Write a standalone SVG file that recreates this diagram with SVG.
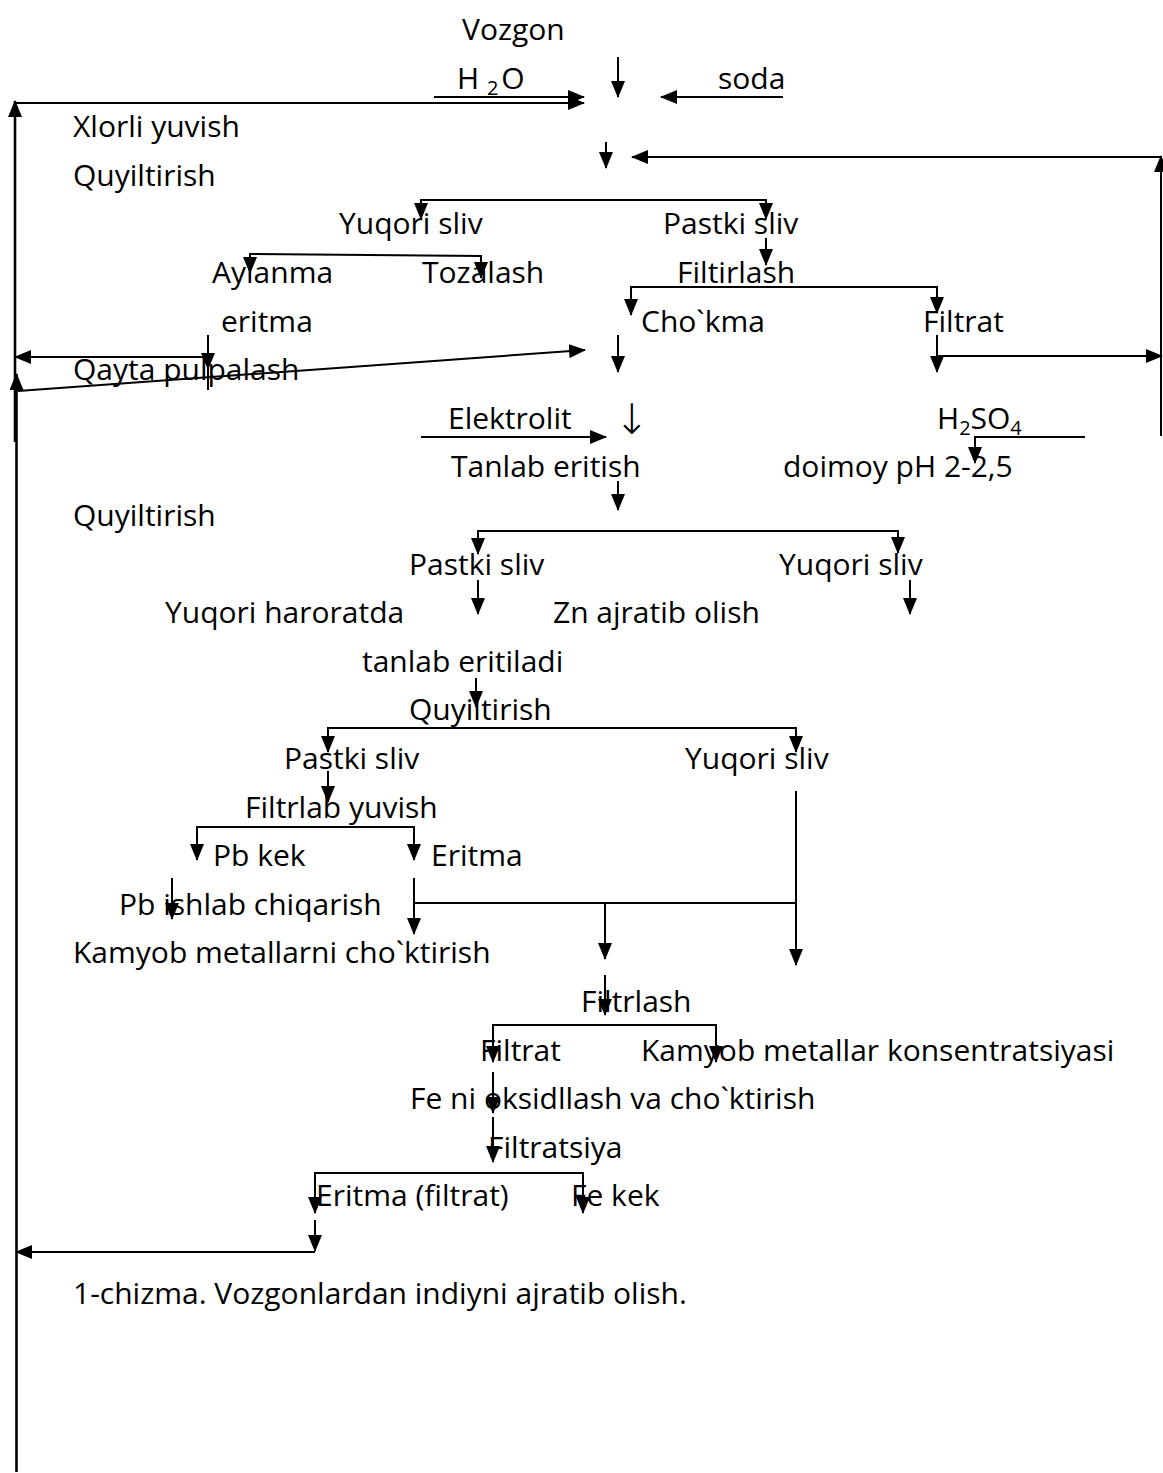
<svg xmlns="http://www.w3.org/2000/svg" width="1163" height="1473" viewBox="0 0 1163 1473">
<defs>
<marker id="ah" markerUnits="userSpaceOnUse" markerWidth="17" markerHeight="14" refX="16" refY="7" orient="auto-start-reverse">
<path d="M0,0 L17,7 L0,14 z" fill="#000"/>
</marker>
<style>
text{font-family:"Open Sans","Noto Sans",sans-serif;font-size:30px;fill:#000}
.c line,.c path{stroke:#000;stroke-width:2;fill:none}
.c .a{marker-end:url(#ah)}
.c .b{marker-start:url(#ah);marker-end:url(#ah)}
.c .w{stroke-width:2.6}
.sub{font-size:20px}
.arr{font-family:"DejaVu Sans",sans-serif;font-size:42px;font-weight:200}
</style>
</defs>
<rect width="1163" height="1473" fill="#fff"/>
<g id="connectors" class="c">
<line class="a w" x1="15" y1="442" x2="15" y2="101"/>
<line class="a" x1="15" y1="103" x2="584" y2="103"/>
<line class="a" x1="434" y1="97" x2="584" y2="97"/>
<line class="a" x1="618" y1="57" x2="618" y2="97"/>
<line class="a" x1="783" y1="97" x2="661" y2="97"/>
<line class="a" x1="606" y1="142" x2="606" y2="168"/>
<line class="a" x1="1161" y1="157" x2="632" y2="157"/>
<line class="a" x1="1161" y1="436" x2="1161" y2="156"/>
<path class="b" d="M421,219 V200 H766 V219"/>
<line class="a" x1="766" y1="238" x2="766" y2="265"/>
<path class="b" d="M250,273 V254 L481,256 V278"/>
<path class="b" d="M631,315 V287 H937 V313"/>
<line class="a" x1="618" y1="335" x2="618" y2="372"/>
<line class="a" x1="937" y1="335" x2="937" y2="372"/>
<line class="a" x1="937" y1="356" x2="1162" y2="356"/>
<line class="a" x1="208" y1="335" x2="208" y2="369"/>
<line x1="208" y1="365" x2="208" y2="390"/>
<line class="a" x1="208" y1="357" x2="15" y2="357"/>
<line class="a w" x1="16.5" y1="1472" x2="16.5" y2="374"/>
<line class="a" x1="18" y1="391" x2="585" y2="350"/>
<line class="a" x1="421" y1="437" x2="606" y2="437"/>
<line class="a" x1="618" y1="481" x2="618" y2="510"/>
<path class="a" d="M1085,437 H975 V463"/>
<path class="b" d="M478,554 V531 H898 V553"/>
<line class="a" x1="478" y1="580" x2="478" y2="614"/>
<line class="a" x1="910" y1="580" x2="910" y2="614"/>
<line class="a" x1="476" y1="678" x2="476" y2="707"/>
<path class="b" d="M328,752 V728 H796 V752"/>
<line class="a" x1="328" y1="771" x2="328" y2="802"/>
<path class="b" d="M197,860 V827 H414 V860"/>
<line class="a" x1="172" y1="878" x2="172" y2="919"/>
<line class="a" x1="414" y1="878" x2="414" y2="934"/>
<line x1="414" y1="903" x2="796" y2="903"/>
<line class="a" x1="605" y1="903" x2="605" y2="959"/>
<line class="a" x1="796" y1="791" x2="796" y2="965"/>
<line class="a" x1="605" y1="975" x2="605" y2="1015"/>
<path class="b" d="M493,1062 V1025 H716 V1062"/>
<line class="a" x1="493" y1="1072" x2="493" y2="1113"/>
<line class="a" x1="493" y1="1117" x2="493" y2="1162"/>
<path class="b" d="M315,1213 V1173 H583 V1213"/>
<line class="a" x1="315" y1="1220" x2="315" y2="1251"/>
<line class="a" x1="315" y1="1252" x2="16" y2="1252"/>
</g>
<g id="n-vozgon"><text x="462" y="40">Vozgon</text></g>
<g id="n-h2o"><text x="457" y="88.6">H <tspan class="sub" dy="6">2</tspan><tspan dx="3" dy="-6">O</tspan></text></g>
<g id="n-soda"><text x="718" y="88.6">soda</text></g>
<g id="n-xlorli"><text x="73" y="137.2">Xlorli yuvish</text></g>
<g id="n-quyiltirish1"><text x="73" y="185.8">Quyiltirish</text></g>
<g id="n-yuqori1"><text x="339" y="234.4">Yuqori sliv</text></g>
<g id="n-pastki1"><text x="663" y="234.4">Pastki sliv</text></g>
<g id="n-aylanma"><text x="212" y="283">Aylanma</text><text x="221" y="331.6">eritma</text></g>
<g id="n-tozalash"><text x="422" y="283">Tozalash</text></g>
<g id="n-filtirlash"><text x="677" y="283">Filtirlash</text></g>
<g id="n-chokma"><text x="641" y="331.6">Cho`kma</text></g>
<g id="n-filtrat1"><text x="923" y="331.6">Filtrat</text></g>
<g id="n-qayta"><text x="73" y="380.2">Qayta pulpalash</text></g>
<g id="n-elektrolit"><text x="448" y="428.8">Elektrolit</text><text class="arr" x="614" y="434">↓</text></g>
<g id="n-h2so4"><text x="937" y="428.8">H<tspan class="sub" dy="6">2</tspan><tspan dy="-6">SO</tspan><tspan class="sub" dy="6">4</tspan></text></g>
<g id="n-tanlab"><text x="451" y="477.4">Tanlab eritish</text></g>
<g id="n-doimoy"><text x="783" y="477.4">doimoy pH 2-2,5</text></g>
<g id="n-quyiltirish2"><text x="73" y="526">Quyiltirish</text></g>
<g id="n-pastki2"><text x="409" y="574.6">Pastki sliv</text></g>
<g id="n-yuqori2"><text x="779" y="574.6">Yuqori sliv</text></g>
<g id="n-haroratda"><text x="165" y="623.2">Yuqori haroratda</text><text x="362" y="671.8">tanlab eritiladi</text></g>
<g id="n-zn"><text x="553" y="623.2">Zn ajratib olish</text></g>
<g id="n-quyiltirish3"><text x="409" y="720.4">Quyiltirish</text></g>
<g id="n-pastki3"><text x="284" y="769">Pastki sliv</text></g>
<g id="n-yuqori3"><text x="685" y="769">Yuqori sliv</text></g>
<g id="n-filtrlab"><text x="245" y="817.6">Filtrlab yuvish</text></g>
<g id="n-pbkek"><text x="213" y="866.2">Pb kek</text></g>
<g id="n-eritma"><text x="431" y="866.2">Eritma</text></g>
<g id="n-pbishlab"><text x="119" y="914.8">Pb ishlab chiqarish</text></g>
<g id="n-kamyob1"><text x="73" y="963.4">Kamyob metallarni cho`ktirish</text></g>
<g id="n-filtrlash"><text x="581" y="1012">Filtrlash</text></g>
<g id="n-filtrat2"><text x="480" y="1060.6">Filtrat</text></g>
<g id="n-kamyob2"><text x="641" y="1060.6">Kamyob metallar konsentratsiyasi</text></g>
<g id="n-feni"><text x="410" y="1109.2">Fe ni oksidllash va cho`ktirish</text></g>
<g id="n-filtratsiya"><text x="488" y="1157.8">Filtratsiya</text></g>
<g id="n-eritmaf"><text x="316" y="1206.4">Eritma (filtrat)</text></g>
<g id="n-fekek"><text x="571" y="1206.4">Fe kek</text></g>
<g id="caption"><text x="73" y="1303.6">1-chizma. Vozgonlardan indiyni ajratib olish.</text></g>
</svg>
